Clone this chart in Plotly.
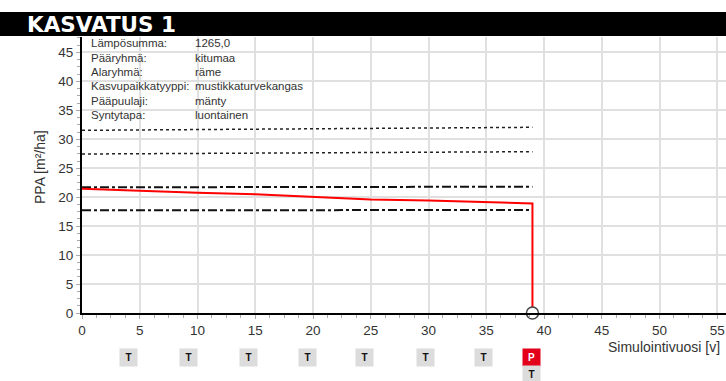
import plotly.graph_objects as go

# ---- data ----
years = [0, 5, 10, 15, 20, 25, 30, 35, 39]
ppa = [21.47, 21.07, 20.78, 20.5, 20.09, 19.6, 19.42, 19.2, 18.93]
end_year = 39

limit_x = [0, 39]
dotted_upper = [31.55, 32.07]
dotted_lower = [27.46, 27.86]
dashdot_upper = [21.71, 21.81]
dashdot_lower = [17.74, 17.79]

info_labels = ["Lämpösumma:", "Pääryhmä:", "Alaryhmä:", "Kasvupaikkatyyppi:", "Pääpuulaji:", "Syntytapa:"]
info_values = ["1265,0", "kitumaa", "räme", "mustikkaturvekangas", "mänty", "luontainen"]

thinning_years = [4.05, 9.2, 14.38, 19.5, 24.5, 29.72, 34.8]
final_year = 38.95

W, H = 726, 381
L, R, T, B = 82, 0, 37, 68
PW = W - L - R
PH = H - T - B

def py(pix):  # pixel y -> paper y
    return (H - B - pix) / PH

def px(pix):  # pixel x -> paper x
    return (pix - L) / PW

font = "Liberation Sans, Arial, sans-serif"
txt = "#333333"

fig = go.Figure()

fig.add_trace(go.Scatter(x=limit_x, y=dotted_upper, mode="lines",
                         line=dict(color="#222", width=1.5, dash="dot"), hoverinfo="skip"))
fig.add_trace(go.Scatter(x=limit_x, y=dotted_lower, mode="lines",
                         line=dict(color="#222", width=1.5, dash="dot"), hoverinfo="skip"))
fig.add_trace(go.Scatter(x=limit_x, y=dashdot_upper, mode="lines",
                         line=dict(color="#111", width=2, dash="dashdot"), hoverinfo="skip"))
fig.add_trace(go.Scatter(x=limit_x, y=dashdot_lower, mode="lines",
                         line=dict(color="#111", width=2, dash="dashdot"), hoverinfo="skip"))

fig.add_trace(go.Scatter(x=years + [end_year], y=ppa + [0], mode="lines",
                         line=dict(color="#ff0000", width=2), hoverinfo="skip"))
fig.add_trace(go.Scatter(x=[end_year], y=[0], mode="markers", cliponaxis=False,
                         marker=dict(size=12, color="white", line=dict(color="#444", width=1.5)),
                         hoverinfo="skip"))

ann = []
row_y = [43, 57.5, 72, 86.3, 100.5, 115]
for lab, val, yy in zip(info_labels, info_values, row_y):
    ann.append(dict(x=px(89), y=py(yy), xref="paper", yref="paper", text=lab, showarrow=False,
                    xanchor="left", yanchor="middle", font=dict(family=font, size=11.5, color=txt)))
    ann.append(dict(x=px(193), y=py(yy), xref="paper", yref="paper", text=val, showarrow=False,
                    xanchor="left", yanchor="middle", font=dict(family=font, size=11.5, color=txt)))

for yr in thinning_years:
    ann.append(dict(x=yr, y=py(357.7), xref="x", yref="paper", text="<b>T</b>", showarrow=False,
                    xanchor="center", yanchor="middle", width=15, height=15, bgcolor="#dcdcdc",
                    font=dict(family=font, size=10, color="#111")))
ann.append(dict(x=final_year, y=py(357.7), xref="x", yref="paper", text="<b>P</b>", showarrow=False,
                xanchor="center", yanchor="middle", width=15, height=15, bgcolor="#e2001a",
                font=dict(family=font, size=10, color="white")))
ann.append(dict(x=final_year, y=py(374), xref="x", yref="paper", text="<b>T</b>", showarrow=False,
                xanchor="center", yanchor="middle", width=15, height=14, bgcolor="#dcdcdc",
                font=dict(family=font, size=10, color="#111")))

ann.append(dict(x=px(722), y=py(347), xref="paper", yref="paper", text="Simulointivuosi [v]",
                showarrow=False, xanchor="right", yanchor="middle",
                font=dict(family=font, size=14, color=txt)))
ann.append(dict(x=px(40), y=py(167), xref="paper", yref="paper", text="PPA [m²/ha]",
                showarrow=False, xanchor="center", yanchor="middle", textangle=-90,
                font=dict(family=font, size=14, color=txt)))

fig.update_layout(
    width=W, height=H,
    margin=dict(l=L, r=R, t=T, b=B),
    paper_bgcolor="white", plot_bgcolor="white",
    showlegend=False,
    annotations=ann,
    title=dict(text="<b>KASVATUS 1</b>", x=27 / W, xanchor="left", xref="container",
               y=1 - 24.5 / H, yanchor="middle", yref="container",
               font=dict(family="DejaVu Sans", size=21.5, color="white")),
    shapes=[dict(type="rect", xref="paper", yref="paper", x0=px(0), x1=1,
                 y0=py(36), y1=py(12), fillcolor="black", line=dict(width=0), layer="above")],
    xaxis=dict(range=[0, PW / 11.55], dtick=5, tick0=0, showgrid=True, gridcolor="#e0e0e0",
               gridwidth=1.5, zeroline=False, showline=True, linecolor="black", linewidth=2,
               ticks="outside", ticklen=4, tickcolor="#aaa",
               minor=dict(dtick=1.25, ticks="outside", ticklen=3, tickcolor="#aaa", showgrid=False),
               tickfont=dict(family=font, size=13.5, color=txt)),
    yaxis=dict(range=[0, PH / 5.79], dtick=5, tick0=0, showgrid=True, gridcolor="#e0e0e0",
               gridwidth=1.5, zeroline=False, showline=True, linecolor="black", linewidth=2,
               ticks="outside", ticklen=4, tickcolor="#aaa",
               minor=dict(dtick=1.25, ticks="outside", ticklen=3, tickcolor="#aaa", showgrid=False),
               tickfont=dict(family=font, size=13.5, color=txt)),
)

fig.write_html("out.html", config={"displayModeBar": False},
               post_script="document.body.style.margin='0';document.body.style.padding='0';"
                           "document.body.style.overflow='hidden';")
